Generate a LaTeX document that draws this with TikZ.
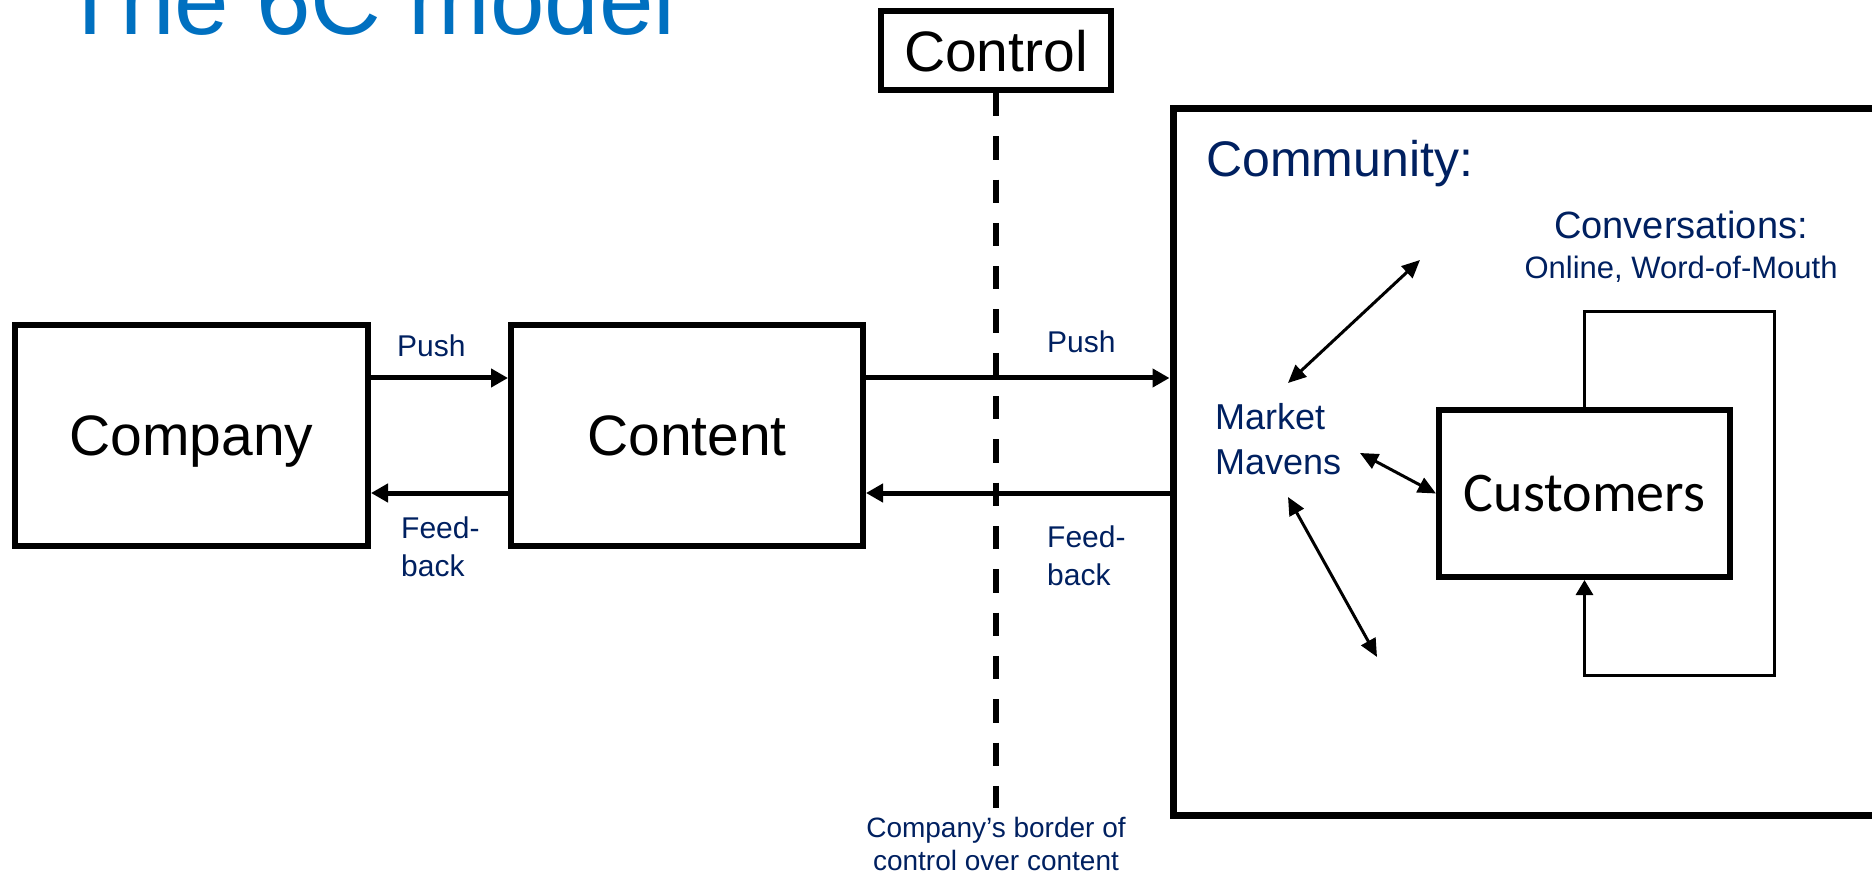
\documentclass[tikz,border=0pt]{standalone}
\usepackage{fontspec}
\setmainfont{Liberation Sans}
\newfontfamily\calfont{Carlito}
\usetikzlibrary{arrows.meta}
\definecolor{titleblue}{HTML}{0070C0}
\definecolor{navy}{HTML}{002060}

\begin{document}
\begin{tikzpicture}[x=1pt,y=-1pt,
  box/.style={draw,line width=6pt,minimum width=353pt,minimum height=221pt,inner sep=0pt,text depth=0pt,font=\fontsize{57}{68}\selectfont},
  lbl/.style={text=navy,inner sep=0pt,align=left,anchor=base west,font=\fontsize{30}{38}\selectfont},
  flow/.style={line width=5pt,-{Triangle[length=17pt,width=18pt]}},
  link/.style={line width=3pt,{Triangle[length=18pt,width=16pt]}-{Triangle[length=18pt,width=16pt]}}]
\pgfmathsetmacro{\DY}{57.5}

\useasboundingbox (0,0) rectangle (1872,874);

\node[anchor=base west,inner sep=0pt,text=titleblue,font=\fontsize{98}{110}\selectfont] (title) at (60,35) {The 6C model};

% company side
\node[box] (comp) at (191.5,435.5) {Company};
\node[box,minimum width=352pt] (cont) at (687,435.5) {Content};
\node[box,minimum width=230pt,minimum height=79pt] (ctrl) at (996,50.5) {Control};
\node[draw,line width=7pt,minimum width=727pt,minimum height=706pt] (comm) at (1536.5,462) {};

\foreach \a/\b in {comp/cont,cont/comm} {
  \coordinate (p\a) at ([yshift=\DY pt]\a.east);
  \coordinate (f\a) at ([yshift=-\DY pt]\a.east);
  \draw[flow] (p\a) -- (p\a -| \b.west);
  \draw[flow] (f\a -| \b.west) -- (f\a);
}
\node[lbl] (push1) at (397,357) {Push};
\node[lbl] (feed1) at (401,576) {Feed-\\back};
\node[lbl] (push2) at (1047,353) {Push};
\node[lbl] (feed2) at (1047,585) {Feed-\\back};

% border of control
\coordinate (bord) at (996,808);
\draw[line width=6pt,dash pattern=on 23.3pt off 20pt] (ctrl.south) -- (bord);
\node[lbl,align=center,anchor=base,font=\fontsize{28}{33}\selectfont] (bordlbl) at (996,870) {Company’s border of\\control over content};

% community
\node[lbl,anchor=base west,font=\fontsize{50}{60}\selectfont] (commlbl) at (1206,177) {Community:};
\node[lbl,anchor=base,font=\fontsize{38}{46}\selectfont] (conv) at (1681,239) {Conversations:};
\node[lbl,anchor=base,font=\fontsize{31}{37}\selectfont] (convsub) at (1681,279) {Online, Word-of-Mouth};
\node[lbl,font=\fontsize{36}{45}\selectfont] (mav) at (1215,475) {Market\\Mavens};

\node[box,minimum width=291pt,minimum height=167pt,font=\calfont\fontsize{56}{67}\selectfont] (cust) at (1584.5,493.5) {Customers};
\coordinate (loopne) at (1774,312);
\coordinate (loopse) at (1774,675);
\draw[line width=3pt,-{Triangle[length=15pt,width=17pt]}] (cust.north) |- (loopne) -- (loopse) -| (cust.south);

\coordinate (up1) at (1288,383);
\coordinate (up2) at (1420,260);
\coordinate (mid1) at (1360,453);
\coordinate (low1) at (1288,497);
\coordinate (low2) at (1377,657);
\draw[link] (up1) -- (up2);
\draw[link] (mid1) -- (cust.west);
\draw[link] (low1) -- (low2);
\end{tikzpicture}
\end{document}
